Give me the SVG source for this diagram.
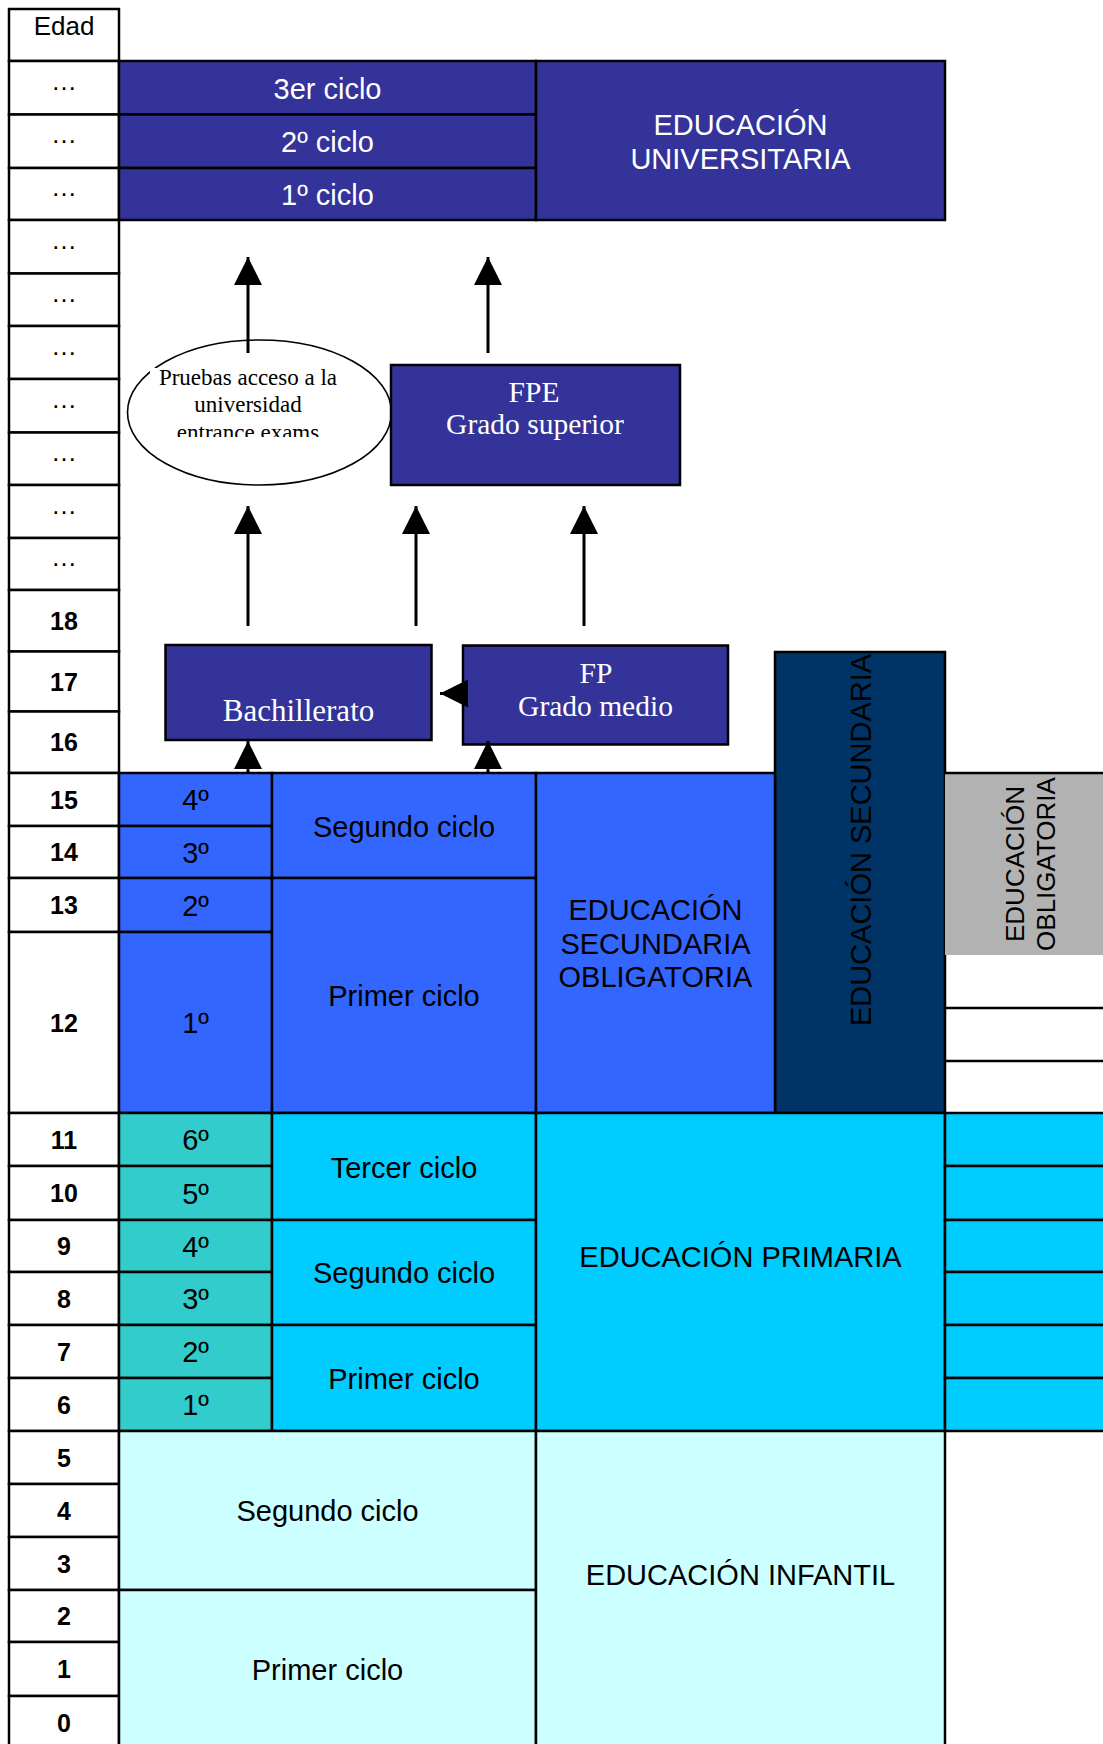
<svg xmlns="http://www.w3.org/2000/svg" width="1103" height="1744" viewBox="0 0 1103 1744">
<defs>
<style>
.c{stroke:#000;stroke-width:2.5}
.s{font-family:"Liberation Sans",Arial,sans-serif;text-anchor:middle;fill:#000}
.f{font-family:"Liberation Serif","Times New Roman",serif;text-anchor:middle;fill:#fff}
.t{font-size:29px}
.wt{fill:#fff}
.age{font-size:25px;font-weight:bold}
.d{font-size:26px}
.navy{fill:#333399}
.sec{fill:#3366FF}
.dark{fill:#003366}
.teal{fill:#33CCCC}
.cyan{fill:#00CCFF}
.lc{fill:#CCFFFF}
.gray{fill:#B2B2B2}
.wh{fill:#FFFFFF}
.ln{stroke:#000;stroke-width:2.5;fill:none}
.arrow{stroke:#000;stroke-width:3;fill:none;marker-end:url(#ah)}
</style>
<marker id="ah" markerUnits="userSpaceOnUse" markerWidth="28" markerHeight="28" viewBox="0 0 28 28" refX="28" refY="14" orient="auto"><path d="M0,0 L28,14 L0,28 z" fill="#000"/></marker>
<clipPath id="eclip"><rect x="150" y="368" width="196" height="69"/></clipPath>
</defs>
<rect x="0" y="0" width="1103" height="1744" fill="#fff"/>

<g id="age-column">
<rect class="c wh" x="9" y="9" width="110" height="52"/>
<text class="s d" x="64" y="35">Edad</text>
<rect class="c wh" x="9" y="61" width="110" height="53.5"/>
<rect class="c wh" x="9" y="114.5" width="110" height="53.5"/>
<rect class="c wh" x="9" y="168" width="110" height="52"/>
<rect class="c wh" x="9" y="220" width="110" height="53.5"/>
<rect class="c wh" x="9" y="273.5" width="110" height="52.5"/>
<rect class="c wh" x="9" y="326" width="110" height="53"/>
<rect class="c wh" x="9" y="379" width="110" height="53.5"/>
<rect class="c wh" x="9" y="432.5" width="110" height="52.5"/>
<rect class="c wh" x="9" y="485" width="110" height="53"/>
<rect class="c wh" x="9" y="538" width="110" height="52"/>
<text class="s d" x="64" y="90">…</text>
<text class="s d" x="64" y="143">…</text>
<text class="s d" x="64" y="196">…</text>
<text class="s d" x="64" y="249">…</text>
<text class="s d" x="64" y="302">…</text>
<text class="s d" x="64" y="355">…</text>
<text class="s d" x="64" y="408">…</text>
<text class="s d" x="64" y="461">…</text>
<text class="s d" x="64" y="514">…</text>
<text class="s d" x="64" y="566">…</text>
<rect class="c wh" x="9" y="590" width="110" height="61.5"/>
<rect class="c wh" x="9" y="651.5" width="110" height="60"/>
<rect class="c wh" x="9" y="711.5" width="110" height="61.5"/>
<rect class="c wh" x="9" y="773" width="110" height="53"/>
<rect class="c wh" x="9" y="826" width="110" height="52"/>
<rect class="c wh" x="9" y="878" width="110" height="54"/>
<rect class="c wh" x="9" y="932" width="110" height="181"/>
<rect class="c wh" x="9" y="1113" width="110" height="53"/>
<rect class="c wh" x="9" y="1166" width="110" height="54"/>
<rect class="c wh" x="9" y="1220" width="110" height="52"/>
<rect class="c wh" x="9" y="1272" width="110" height="53"/>
<rect class="c wh" x="9" y="1325" width="110" height="53"/>
<rect class="c wh" x="9" y="1378" width="110" height="53"/>
<rect class="c wh" x="9" y="1431" width="110" height="53"/>
<rect class="c wh" x="9" y="1484" width="110" height="53"/>
<rect class="c wh" x="9" y="1537" width="110" height="53"/>
<rect class="c wh" x="9" y="1590" width="110" height="52"/>
<rect class="c wh" x="9" y="1642" width="110" height="54"/>
<rect class="c wh" x="9" y="1696" width="110" height="60"/>
<text class="s age" x="64" y="630">18</text>
<text class="s age" x="64" y="690.5">17</text>
<text class="s age" x="64" y="751">16</text>
<text class="s age" x="64" y="808.5">15</text>
<text class="s age" x="64" y="861">14</text>
<text class="s age" x="64" y="914">13</text>
<text class="s age" x="64" y="1031.5">12</text>
<text class="s age" x="64" y="1148.5">11</text>
<text class="s age" x="64" y="1202">10</text>
<text class="s age" x="64" y="1255">9</text>
<text class="s age" x="64" y="1307.5">8</text>
<text class="s age" x="64" y="1360.5">7</text>
<text class="s age" x="64" y="1413.5">6</text>
<text class="s age" x="64" y="1466.5">5</text>
<text class="s age" x="64" y="1519.5">4</text>
<text class="s age" x="64" y="1572.5">3</text>
<text class="s age" x="64" y="1625">2</text>
<text class="s age" x="64" y="1678">1</text>
<text class="s age" x="64" y="1732">0</text>
</g>

<g id="universidad">
<rect class="c navy" x="119" y="61" width="417" height="53.5"/>
<rect class="c navy" x="119" y="114.5" width="417" height="53.5"/>
<rect class="c navy" x="119" y="168" width="417" height="52"/>
<rect class="c navy" x="536" y="61" width="409" height="159"/>
<text class="s t wt" x="327.5" y="98.5">3er ciclo</text>
<text class="s t wt" x="327.5" y="152">2º ciclo</text>
<text class="s t wt" x="327.5" y="205">1º ciclo</text>
<text class="s t wt" x="740.5" y="135">EDUCACIÓN</text>
<text class="s t wt" x="740.5" y="169">UNIVERSITARIA</text>
</g>

<g id="pruebas-acceso">
<ellipse cx="259.5" cy="412.5" rx="132" ry="72.5" fill="#fff" stroke="#000" stroke-width="1.6"/>
<rect x="150" y="368" width="196" height="69" fill="#fff"/>
<g clip-path="url(#eclip)">
<text class="f" x="248" y="385" font-size="23" style="fill:#000">Pruebas acceso a la</text>
<text class="f" x="248" y="412" font-size="23" style="fill:#000">universidad</text>
<text class="f" x="248" y="440" font-size="23" style="fill:#000">entrance exams</text>
</g>
</g>

<g id="fpe-grado-superior">
<rect class="c navy" x="391" y="365" width="289" height="120"/>
<text class="f" x="534" y="402" font-size="29.5">FPE</text>
<text class="f" x="535" y="434" font-size="29.5">Grado superior</text>
</g>

<g id="bachillerato">
<rect class="c navy" x="165.5" y="645" width="266" height="95"/>
<text class="f" x="298.5" y="721" font-size="31">Bachillerato</text>
</g>

<g id="fp-grado-medio">
<rect class="c navy" x="463" y="645.5" width="265" height="99"/>
<text class="f" x="596" y="683" font-size="29.5">FP</text>
<text class="f" x="595.5" y="716" font-size="29.5">Grado medio</text>
</g>

<g id="educacion-secundaria">
<rect class="c dark" x="775" y="652" width="170" height="461"/>
<text class="s" font-size="29" transform="translate(871,840) rotate(-90)">EDUCACIÓN SECUNDARIA</text>
</g>

<g id="eso">
<rect class="c sec" x="119" y="773" width="153" height="53"/>
<rect class="c sec" x="119" y="826" width="153" height="52"/>
<rect class="c sec" x="119" y="878" width="153" height="54"/>
<rect class="c sec" x="119" y="932" width="153" height="181"/>
<rect class="c sec" x="272" y="773" width="264" height="105"/>
<rect class="c sec" x="272" y="878" width="264" height="235"/>
<rect class="c sec" x="536" y="773" width="239" height="340"/>
<text class="s t" x="195.5" y="810">4º</text>
<text class="s t" x="195.5" y="862.5">3º</text>
<text class="s t" x="195.5" y="915.5">2º</text>
<text class="s t" x="195.5" y="1033">1º</text>
<text class="s t" x="404" y="836.5">Segundo ciclo</text>
<text class="s t" x="404" y="1006">Primer ciclo</text>
<text class="s t" x="655.5" y="920">EDUCACIÓN</text>
<text class="s t" x="655.5" y="953.5">SECUNDARIA</text>
<text class="s t" x="655.5" y="987">OBLIGATORIA</text>
</g>

<g id="educacion-obligatoria">
<rect class="gray" x="945" y="773" width="160" height="182"/>
<line class="ln" x1="945" y1="773" x2="1105" y2="773"/>
<line class="ln" x1="945" y1="1008" x2="1105" y2="1008"/>
<line class="ln" x1="945" y1="1061" x2="1105" y2="1061"/>
<text class="s" font-size="26" transform="translate(1024,864) rotate(-90)">EDUCACIÓN</text>
<text class="s" font-size="26" transform="translate(1055,864) rotate(-90)">OBLIGATORIA</text>
</g>

<g id="primaria">
<rect class="c teal" x="119" y="1113" width="153" height="53"/>
<rect class="c teal" x="119" y="1166" width="153" height="54"/>
<rect class="c teal" x="119" y="1220" width="153" height="52"/>
<rect class="c teal" x="119" y="1272" width="153" height="53"/>
<rect class="c teal" x="119" y="1325" width="153" height="53"/>
<rect class="c teal" x="119" y="1378" width="153" height="53"/>
<rect class="c cyan" x="272" y="1113" width="264" height="107"/>
<rect class="c cyan" x="272" y="1220" width="264" height="105"/>
<rect class="c cyan" x="272" y="1325" width="264" height="106"/>
<rect class="c cyan" x="536" y="1113" width="409" height="318"/>
<rect class="c cyan" x="945" y="1113" width="160" height="53"/>
<rect class="c cyan" x="945" y="1166" width="160" height="54"/>
<rect class="c cyan" x="945" y="1220" width="160" height="52"/>
<rect class="c cyan" x="945" y="1272" width="160" height="53"/>
<rect class="c cyan" x="945" y="1325" width="160" height="53"/>
<rect class="c cyan" x="945" y="1378" width="160" height="53"/>
<text class="s t" x="195.5" y="1150">6º</text>
<text class="s t" x="195.5" y="1203.5">5º</text>
<text class="s t" x="195.5" y="1256.5">4º</text>
<text class="s t" x="195.5" y="1309">3º</text>
<text class="s t" x="195.5" y="1362">2º</text>
<text class="s t" x="195.5" y="1415">1º</text>
<text class="s t" x="404" y="1177.5">Tercer ciclo</text>
<text class="s t" x="404" y="1283">Segundo ciclo</text>
<text class="s t" x="404" y="1389">Primer ciclo</text>
<text class="s t" x="740.5" y="1267">EDUCACIÓN PRIMARIA</text>
</g>

<g id="infantil">
<rect class="c lc" x="119" y="1431" width="417" height="159"/>
<rect class="c lc" x="119" y="1590" width="417" height="166"/>
<rect class="c lc" x="536" y="1431" width="409" height="325"/>
<text class="s t" x="327.5" y="1521">Segundo ciclo</text>
<text class="s t" x="327.5" y="1680">Primer ciclo</text>
<text class="s t" x="740.5" y="1585">EDUCACIÓN INFANTIL</text>
</g>

<g id="connectors">
<line class="arrow" x1="248" y1="353" x2="248" y2="257"/>
<line class="arrow" x1="488" y1="353" x2="488" y2="257"/>
<line class="arrow" x1="248" y1="626" x2="248" y2="506"/>
<line class="arrow" x1="416" y1="626" x2="416" y2="506"/>
<line class="arrow" x1="584" y1="626" x2="584" y2="506"/>
<line class="arrow" x1="248" y1="772" x2="248" y2="741"/>
<line class="arrow" x1="488" y1="772" x2="488" y2="741"/>
<line class="arrow" x1="468" y1="693.5" x2="440" y2="693.5"/>
</g>
</svg>
